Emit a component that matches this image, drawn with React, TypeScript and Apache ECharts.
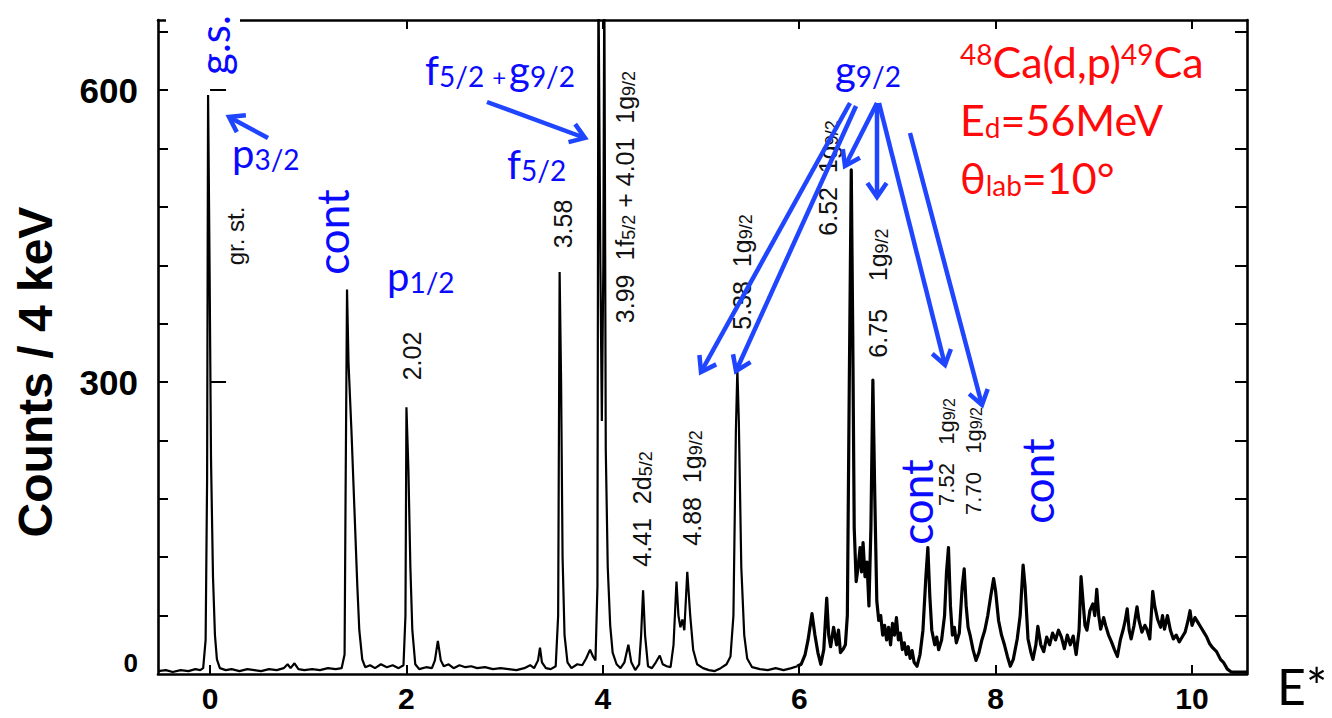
import React, { useEffect, useRef } from "react";
import * as echarts from "echarts";

// ---- data -------------------------------------------------------------
const xTickValues = [0, 2, 4, 6, 8, 10];
const yLabelValues = [0, 300, 600];
const yMajorTicks = [300, 600];
const yMinorTicks = [60, 120, 180, 240, 300, 360, 420, 480, 540, 600, 660];

// [excitation energy (MeV), counts / 4 keV]
const spectrumLow: [number, number][] = [
  [-0.53, 3], [-0.45, 4], [-0.38, 2], [-0.3, 4], [-0.22, 3], [-0.15, 5], [-0.1, 4],
  [-0.07, 6], [-0.045, 35], [-0.03, 200], [-0.02, 595], [-0.005, 420], [0.01, 220],
  [0.03, 100], [0.05, 40], [0.07, 15], [0.1, 6], [0.16, 4], [0.22, 5], [0.3, 3],
  [0.38, 5], [0.45, 4], [0.52, 3], [0.6, 5], [0.68, 4], [0.75, 6], [0.79, 10],
  [0.82, 6], [0.86, 11], [0.9, 5], [0.96, 4], [1.04, 5], [1.12, 4], [1.2, 6],
  [1.28, 5], [1.34, 6], [1.37, 20], [1.38, 180], [1.395, 395], [1.41, 320],
  [1.44, 250], [1.47, 170], [1.5, 90], [1.52, 45], [1.55, 15], [1.58, 7],
  [1.63, 9], [1.68, 6], [1.74, 10], [1.8, 7], [1.86, 9], [1.92, 6], [1.97, 9],
  [1.99, 60], [2.0, 274], [2.02, 210], [2.04, 110], [2.06, 45], [2.09, 10],
  [2.13, 5], [2.2, 7], [2.26, 6], [2.29, 14], [2.32, 34], [2.35, 14], [2.38, 8],
  [2.43, 10], [2.48, 6], [2.54, 9], [2.6, 7], [2.66, 8], [2.72, 6], [2.8, 7],
  [2.88, 5], [2.96, 6],
];

const spectrumMid: [number, number][] = [
  [3.04, 5], [3.12, 4], [3.2, 6], [3.26, 9], [3.3, 6], [3.34, 14], [3.36, 27],
  [3.38, 12], [3.42, 6], [3.47, 5], [3.52, 8], [3.545, 60], [3.56, 413],
  [3.575, 300], [3.59, 120], [3.61, 40], [3.64, 12], [3.68, 6], [3.74, 10],
  [3.79, 9], [3.83, 16], [3.87, 25], [3.9, 18], [3.925, 14], [3.945, 90],
  [3.955, 720], [3.975, 420], [3.99, 260], [4.005, 420], [4.015, 720], [4.03, 230],
  [4.05, 110], [4.075, 50],
  [4.1, 22], [4.14, 10], [4.18, 6], [4.22, 12], [4.26, 30], [4.29, 12], [4.33, 4],
  [4.37, 10], [4.39, 40], [4.41, 86], [4.43, 40], [4.46, 8], [4.5, 6], [4.54, 12],
  [4.58, 19], [4.61, 10], [4.65, 8], [4.69, 7], [4.72, 30], [4.75, 95], [4.77, 60],
  [4.79, 48], [4.81, 56], [4.83, 45], [4.86, 105], [4.89, 60], [4.92, 25],
  [4.96, 10], [5.02, 6], [5.08, 4], [5.14, 3], [5.2, 6], [5.26, 10], [5.3, 18],
  [5.33, 60], [5.355, 250], [5.37, 313], [5.385, 260], [5.41, 110], [5.44, 40],
  [5.47, 16], [5.52, 7], [5.6, 5], [5.68, 4], [5.76, 6], [5.84, 4], [5.92, 6],
  [5.98, 8],
];

const spectrumHigh: [number, number][] = [
  [5.98, 8], [6.02, 10], [6.06, 20], [6.09, 35], [6.13, 62], [6.16, 40], [6.19, 22],
  [6.22, 10], [6.25, 25], [6.28, 78], [6.3, 40], [6.32, 28], [6.35, 48], [6.38, 30],
  [6.4, 45], [6.42, 22], [6.45, 26], [6.47, 30], [6.49, 60], [6.51, 300],
  [6.53, 518], [6.545, 350], [6.56, 150], [6.58, 95], [6.6, 110], [6.62, 130],
  [6.635, 105], [6.65, 135], [6.67, 100], [6.69, 115], [6.71, 70], [6.73, 150],
  [6.75, 302], [6.77, 180], [6.79, 75], [6.81, 55], [6.83, 60], [6.85, 40],
  [6.87, 50], [6.89, 35], [6.91, 48], [6.93, 30], [6.95, 52], [6.97, 40],
  [6.99, 58], [7.01, 35], [7.03, 42], [7.05, 25], [7.07, 32], [7.09, 20],
  [7.11, 28], [7.13, 16], [7.15, 24], [7.17, 12], [7.2, 8], [7.23, 20], [7.26, 45],
  [7.29, 100], [7.31, 130], [7.33, 80], [7.35, 45], [7.38, 30], [7.4, 38],
  [7.42, 25], [7.45, 35], [7.48, 60], [7.5, 105], [7.52, 130], [7.54, 70],
  [7.56, 40], [7.58, 48], [7.6, 32], [7.63, 42], [7.66, 90], [7.68, 108],
  [7.7, 70], [7.72, 48], [7.74, 40], [7.77, 25], [7.8, 14], [7.83, 22], [7.86, 35],
  [7.89, 45], [7.92, 60], [7.95, 80], [7.98, 98], [8.0, 85], [8.03, 55], [8.06, 40],
  [8.09, 30], [8.12, 18], [8.15, 8], [8.18, 15], [8.22, 36], [8.25, 60],
  [8.28, 112], [8.3, 90], [8.33, 36], [8.36, 22], [8.38, 15], [8.41, 30],
  [8.43, 49], [8.46, 30], [8.49, 23], [8.52, 38], [8.55, 30], [8.58, 42],
  [8.61, 35], [8.64, 45], [8.67, 38], [8.7, 26], [8.73, 40], [8.76, 30], [8.79, 39],
  [8.82, 20], [8.85, 45], [8.87, 100], [8.89, 75], [8.91, 50], [8.93, 45],
  [8.96, 65], [8.99, 72], [9.01, 60], [9.03, 87], [9.05, 60], [9.07, 46], [9.1, 58],
  [9.12, 50], [9.15, 40], [9.18, 33], [9.21, 25], [9.24, 18], [9.27, 35], [9.3, 46],
  [9.32, 55], [9.34, 67], [9.36, 45], [9.38, 36], [9.41, 50], [9.44, 69], [9.46, 55],
  [9.49, 43], [9.52, 50], [9.54, 46], [9.57, 36], [9.6, 85], [9.62, 70], [9.65, 56],
  [9.68, 48], [9.7, 60], [9.72, 46], [9.75, 60], [9.78, 45], [9.81, 36], [9.84, 40],
  [9.87, 33], [9.9, 38], [9.93, 43], [9.96, 55], [9.98, 65], [10.0, 50],
  [10.03, 58], [10.06, 53], [10.09, 48], [10.12, 43], [10.15, 38], [10.18, 31],
  [10.21, 27], [10.25, 23], [10.29, 15], [10.32, 12], [10.36, 5], [10.4, 2],
  [10.5, 2], [10.56, 2],
];

// ---- styling constants ---------------------------------------------------
const BLUE = "#0a0aff";
const ARROW_BLUE = "#1f45ff";
const RED = "#ff0a0a";
const BLUE_FONT = "Lato, 'Open Sans', sans-serif";
const AX_FONT = "'Liberation Sans', Arial, sans-serif";

function arrow(x1: number, y1: number, x2: number, y2: number) {
  const a = Math.atan2(y2 - y1, x2 - x1);
  const h = 17;
  const s = 0.6;
  const p1 = [x2 - h * Math.cos(a - s), y2 - h * Math.sin(a - s)];
  const p2 = [x2 - h * Math.cos(a + s), y2 - h * Math.sin(a + s)];
  const st = { stroke: ARROW_BLUE, lineWidth: 4.5, fill: null, lineCap: "butt", lineJoin: "miter" };
  return [
    { type: "polyline", shape: { points: [[x1, y1], [x2, y2]] }, style: st, z: 20 },
    { type: "polyline", shape: { points: [p1, [x2, y2], p2] }, style: st, z: 20 },
  ];
}

function subText(text: string, x: number, y: number, color: string, size: number, subSize: number, subPad: number, extraRich: any = {}) {
  return {
    type: "text",
    x,
    y,
    z: 20,
    style: {
      text,
      fill: color,
      align: "left",
      textAlign: "left",
      verticalAlign: "top",
      textVerticalAlign: "top",
      fontFamily: BLUE_FONT,
      fontSize: size,
      rich: {
        m: { fontSize: size, lineHeight: size, verticalAlign: "top", fill: color, fontFamily: BLUE_FONT },
        s: { fontSize: subSize, lineHeight: subSize, verticalAlign: "bottom", padding: [subPad, 0, 0, 0], fill: color, fontFamily: BLUE_FONT },
        ...extraRich,
      },
    },
  };
}

function supText(text: string, x: number, y: number, color: string, size: number, supSize: number) {
  return {
    type: "text",
    x,
    y,
    z: 20,
    style: {
      text,
      fill: color,
      align: "left",
      textAlign: "left",
      verticalAlign: "top",
      textVerticalAlign: "top",
      fontFamily: BLUE_FONT,
      fontSize: size,
      rich: {
        m: { fontSize: size, lineHeight: size, verticalAlign: "bottom", fill: color, fontFamily: BLUE_FONT },
        s: { fontSize: supSize, lineHeight: supSize, verticalAlign: "top", fill: color, fontFamily: BLUE_FONT },
      },
    },
  };
}

function rotText(text: string, x: number, y: number, color: string, size: number, font: string, weight = "normal", rich?: any) {
  return {
    type: "text",
    x,
    y,
    rotation: Math.PI / 2,
    z: 20,
    style: {
      text,
      fill: color,
      align: "center",
      textAlign: "center",
      verticalAlign: "middle",
      textVerticalAlign: "middle",
      fontFamily: font,
      fontSize: size,
      fontWeight: weight,
      rich,
    },
  };
}

const blackRich = {
  n: { fontSize: 25, lineHeight: 25, verticalAlign: "top", fill: "#111", fontFamily: AX_FONT },
  s: { fontSize: 18, lineHeight: 18, verticalAlign: "bottom", padding: [9, 0, 0, 0], fill: "#111", fontFamily: AX_FONT },
};
const blackRichSmall = {
  n: { fontSize: 22, lineHeight: 22, verticalAlign: "top", fill: "#111", fontFamily: AX_FONT },
  s: { fontSize: 16, lineHeight: 16, verticalAlign: "bottom", padding: [8, 0, 0, 0], fill: "#111", fontFamily: AX_FONT },
};

export default function App() {
  const ref = useRef<HTMLDivElement>(null);

  useEffect(() => {
    if (!ref.current) return;
    const chart = echarts.init(ref.current, null, { renderer: "svg" });
    const spectrumA = [...spectrumLow, ...spectrumMid];

    const arrowPts: [number, number, number, number][] = [
      [268, 138, 229, 117],
      [487, 102, 585, 138],
      [850, 103, 701, 372],
      [856, 106, 736, 371],
      [877, 103, 845, 166],
      [877, 103, 877, 197],
      [879, 103, 945, 365],
      [910, 133, 982, 405],
    ];

    const graphics: any[] = [
      { type: "rect", shape: { x: 166, y: 8, width: 74, height: 20 }, style: { fill: "#fff" }, z: 5 },
      rotText("Counts / 4 keV", 35, 372, "#000", 48, AX_FONT, "bold"),
      { type: "text", x: 1277, y: 686, z: 20, style: { text: "E*", fill: "#000", fontFamily: BLUE_FONT, fontSize: 50, align: "left", textAlign: "left", verticalAlign: "middle", textVerticalAlign: "middle" } },
      // blue labels
      rotText("g.s.", 214, 45, BLUE, 42, BLUE_FONT),
      subText("{m|p}{s|3/2}", 232, 133, BLUE, 40, 28, 20),
      rotText("cont", 332, 232, BLUE, 44, BLUE_FONT),
      subText("{m|p}{s|1/2}", 387, 256, BLUE, 40, 28, 20),
      subText("{m|f}{s|5/2}{p|+}{m|g}{s|9/2}", 425, 50, BLUE, 40, 28, 20, {
        p: { fontSize: 24, lineHeight: 24, verticalAlign: "bottom", padding: [0, 3, 2, 8], fill: BLUE, fontFamily: BLUE_FONT },
      }),
      subText("{m|f}{s|5/2}", 507, 144, BLUE, 40, 28, 20),
      subText("{m|g}{s|9/2}", 835, 50, BLUE, 40, 28, 20),
      rotText("cont", 916, 502, BLUE, 44, BLUE_FONT),
      rotText("cont", 1037, 481, BLUE, 44, BLUE_FONT),
      // red reaction labels
      supText("{s|48}{m|Ca(d,p)}{s|49}{m|Ca}", 960, 40, RED, 43, 28),
      subText("{m|E}{s|d}{m|=56MeV}", 960, 98, RED, 43, 28, 25),
      subText("{m|θ}{s|lab}{m|=10°}", 960, 156, RED, 43, 28, 20),
      // black peak labels
      rotText("gr. st.", 235, 236, "#111", 24, AX_FONT),
      rotText("2.02", 412, 356, "#111", 25, AX_FONT),
      rotText("3.58", 563, 224, "#111", 25, AX_FONT),
      rotText("{n|3.99  1f}{s|5/2}{n| + 4.01  1g}{s|9/2}", 625, 197, "#111", 25, AX_FONT, "normal", blackRich),
      rotText("{n|4.41  2d}{s|5/2}", 642, 509, "#111", 25, AX_FONT, "normal", blackRich),
      rotText("{n|4.88  1g}{s|9/2}", 692, 488, "#111", 25, AX_FONT, "normal", blackRich),
      rotText("{n|5.38  1g}{s|9/2}", 742, 272, "#111", 25, AX_FONT, "normal", blackRich),
      rotText("{n|6.52  1g}{s|9/2}", 828, 178, "#111", 25, AX_FONT, "normal", blackRich),
      rotText("{n|6.75    1g}{s|9/2}", 878, 293, "#111", 25, AX_FONT, "normal", blackRich),
      rotText("{n|7.52   1g}{s|9/2}", 946, 452, "#111", 22, AX_FONT, "normal", blackRichSmall),
      rotText("{n|7.70   1g}{s|9/2}", 973, 461, "#111", 22, AX_FONT, "normal", blackRichSmall),
    ];
    arrowPts.forEach((p) => graphics.push(...arrow(p[0], p[1], p[2], p[3])));

    const axisLine = { show: true, onZero: false, lineStyle: { color: "#000", width: 2.6 } };

    chart.setOption({
      animation: false,
      backgroundColor: "#fff",
      grid: { left: 158, right: 85, top: 20, bottom: 44, containLabel: false },
      xAxis: [
        {
          type: "value",
          min: -0.53,
          max: 10.56,
          position: "bottom",
          axisLine,
          axisTick: { show: true, inside: true, length: 9, customValues: xTickValues, lineStyle: { color: "#000", width: 2 } },
          axisLabel: {
            show: true,
            customValues: xTickValues,
            color: "#000",
            fontFamily: AX_FONT,
            fontWeight: "bold",
            fontSize: 30,
            lineHeight: 30,
            margin: 9,
          },
          splitLine: { show: false },
        },
        {
          type: "value",
          min: -0.53,
          max: 10.56,
          position: "top",
          axisLine,
          axisTick: { show: true, inside: true, length: 9, customValues: xTickValues, lineStyle: { color: "#000", width: 2 } },
          axisLabel: { show: false },
          splitLine: { show: false },
        },
      ],
      yAxis: [
        {
          type: "value",
          min: 0,
          max: 672,
          position: "left",
          axisLine,
          axisTick: { show: true, inside: true, length: 10, customValues: yMinorTicks, lineStyle: { color: "#000", width: 2 } },
          axisLabel: {
            show: true,
            customValues: yLabelValues,
            margin: 20,
            formatter: (v: number) => (v === 0 ? "{z|0}" : "{m|" + v + "}"),
            rich: {
              m: { fontSize: 35, fontWeight: "bold", fontFamily: AX_FONT, color: "#000" },
              z: { fontSize: 26, fontWeight: "bold", fontFamily: AX_FONT, color: "#000", padding: [0, 0, 22, 0] },
            },
          },
          splitLine: { show: false },
        },
        {
          type: "value",
          min: 0,
          max: 672,
          position: "left",
          axisLine: { show: false },
          axisTick: { show: true, inside: true, length: 16, customValues: yMajorTicks, lineStyle: { color: "#000", width: 2 } },
          axisLabel: { show: false },
          splitLine: { show: false },
        },
        {
          type: "value",
          min: 0,
          max: 672,
          position: "right",
          axisLine,
          axisTick: { show: true, inside: true, length: 12, customValues: yMinorTicks, lineStyle: { color: "#000", width: 2 } },
          axisLabel: { show: false },
          splitLine: { show: false },
        },
      ],
      series: [
        {
          type: "line",
          xAxisIndex: 0,
          yAxisIndex: 0,
          data: spectrumA,
          symbol: "none",
          showSymbol: false,
          clip: true,
          silent: true,
          lineStyle: { color: "#000", width: 2.2 },
        },
        {
          type: "line",
          xAxisIndex: 0,
          yAxisIndex: 0,
          data: spectrumHigh,
          symbol: "none",
          showSymbol: false,
          clip: true,
          silent: true,
          lineStyle: { color: "#000", width: 3.2, join: "round" },
        },
      ],
      graphic: graphics,
    });

    return () => chart.dispose();
  }, []);

  return (
    <div
      ref={ref}
      style={{ position: "fixed", left: 0, top: 0, width: 1332, height: 718, background: "#fff" }}
    />
  );
}
